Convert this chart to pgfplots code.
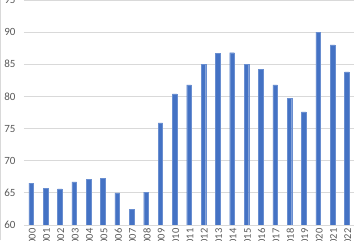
\documentclass[border=0pt]{standalone}
\usepackage{pgfplots}
\pgfplotsset{compat=1.18}
\usepackage{fontspec}
\setmainfont{Carlito}
\definecolor{barblue}{HTML}{4472C4}
\definecolor{gridgray}{HTML}{D9D9D9}
\definecolor{labgray}{HTML}{595959}
\begin{document}
\begin{tikzpicture}[x=1pt,y=1pt]
\begin{axis}[
  name=ax,
  at={(0,0)}, anchor=south west,
  scale only axis,
  width=330pt, height=225pt,
  xmin=-0.5, xmax=22.5,
  ymin=60, ymax=95,
  ytick={60,65,...,95},
  xtick={0,...,22},
  xticklabels={2000,2001,2002,2003,2004,2005,2006,2007,2008,2009,2010,2011,2012,2013,2014,2015,2016,2017,2018,2019,2020,2021,2022},
  x tick label style={rotate=90, anchor=east, font=\fontsize{10.5}{11}\selectfont, text=labgray},
  y tick label style={font=\fontsize{11}{12}\selectfont, text=labgray},
  /pgf/number format/assume math mode=true,
  ymajorgrids, grid style={gridgray, line width=0.8pt},
  axis line style={draw=none},
  axis x line*=bottom,
  x axis line style={draw=gridgray, line width=0.8pt},
  major tick length=0pt,
  tick style={draw=none},
  yticklabel style={xshift=-5pt},
  xticklabel style={yshift=-1pt},
]
\addplot[ybar, bar width=4.6pt, fill=barblue, draw=barblue!80!white, line width=0.3pt] coordinates {
(0,66.5) (1,65.7) (2,65.6) (3,66.7) (4,67.1) (5,67.25) (6,65.0) (7,62.4) (8,65.1) (9,75.9)
(10,80.4) (11,81.8) (12,85.0) (13,86.7) (14,86.8) (15,85.0) (16,84.2) (17,81.8) (18,79.75) (19,77.6)
(20,90.0) (21,88.0) (22,83.8)
};
\coordinate (bl) at (rel axis cs:0,0);
\coordinate (tr) at (rel axis cs:1,1);
\end{axis}
\pgfresetboundingbox
\path[use as bounding box] ([xshift=-24pt,yshift=-15pt]bl) rectangle ([xshift=6pt]tr);
\draw[gridgray, line width=0.6pt] ([xshift=-23.7pt,yshift=-15pt]bl) -- ([xshift=-23.7pt]bl |- tr);
\end{tikzpicture}
\end{document}
